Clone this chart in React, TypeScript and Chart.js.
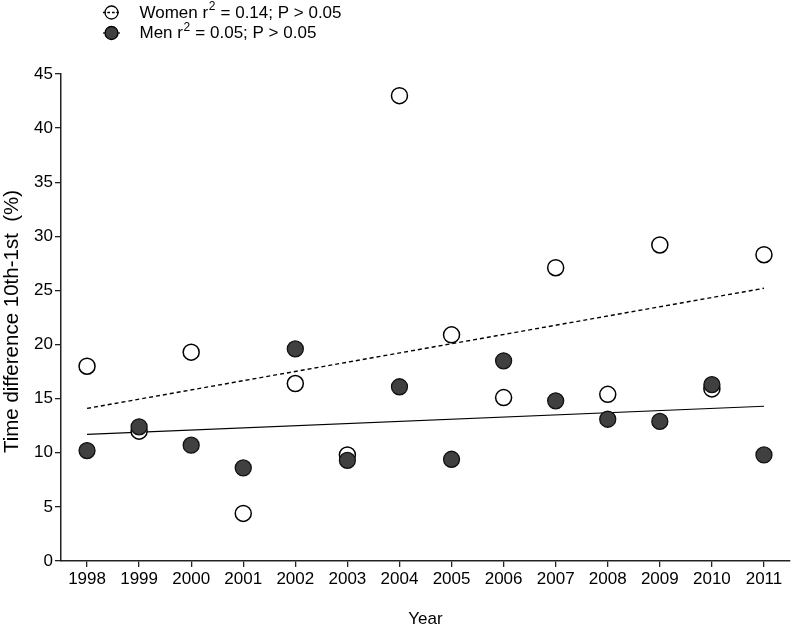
import React, { useEffect, useRef } from "react";
import { Chart, registerables } from "chart.js";

Chart.register(...registerables);

const years = [1998, 1999, 2000, 2001, 2002, 2003, 2004, 2005, 2006, 2007, 2008, 2009, 2010, 2011];
const womenValues = [18.0, 12.0, 19.3, 4.4, 16.4, 9.8, 43.0, 20.9, 15.1, 27.1, 15.4, 29.2, 15.9, 28.3];
const menValues = [10.2, 12.4, 10.7, 8.6, 19.6, 9.3, 16.1, 9.4, 18.5, 14.8, 13.1, 12.9, 16.3, 9.8];
const womenTrendYears = [1998, 2011];
const womenTrendValues = [14.1, 25.2];
const menTrendYears = [1998, 2011];
const menTrendValues = [11.7, 14.3];
const yTicks = [0, 5, 10, 15, 20, 25, 30, 35, 40, 45];
const yTitle = "Time difference 10th-1st  (%)";
const xTitle = "Year";
const legendLabels = [
  { name: "Women", stat: "= 0.14; P > 0.05", dashed: true, fill: "#ffffff" },
  { name: "Men", stat: "= 0.05; P > 0.05", dashed: false, fill: "#404040" },
];

const FONT = "'Liberation Sans', Arial, sans-serif";

const legendPlugin = {
  id: "customLegend",
  afterDraw(chart: any) {
    const ctx = chart.ctx as CanvasRenderingContext2D;
    ctx.save();
    legendLabels.forEach((item, i) => {
      const cx = 111.5;
      const cy = 12.5 + i * 20.5;
      ctx.strokeStyle = "#000";
      ctx.lineWidth = 1.2;
      ctx.setLineDash(item.dashed ? [2.5, 2] : []);
      ctx.beginPath();
      ctx.moveTo(cx - 8.5, cy);
      ctx.lineTo(cx + 8.5, cy);
      ctx.stroke();
      ctx.setLineDash([]);
      ctx.beginPath();
      ctx.arc(cx, cy, 6.5, 0, Math.PI * 2);
      if (!item.dashed) {
        ctx.fillStyle = item.fill;
        ctx.fill();
      }
      ctx.lineWidth = 1.3;
      ctx.stroke();
      if (item.dashed) {
        ctx.setLineDash([2.5, 2]);
        ctx.beginPath();
        ctx.moveTo(cx - 8.5, cy);
        ctx.lineTo(cx + 8.5, cy);
        ctx.stroke();
        ctx.setLineDash([]);
      }
      ctx.fillStyle = "#000";
      ctx.textBaseline = "middle";
      ctx.textAlign = "left";
      ctx.font = `17px ${FONT}`;
      let x = 139.5;
      const t1 = item.name + " r";
      ctx.fillText(t1, x, cy + 0.5);
      x += ctx.measureText(t1).width;
      ctx.font = `12px ${FONT}`;
      ctx.fillText("2", x + 0.5, cy - 5.5);
      x += ctx.measureText("2").width + 1;
      ctx.font = `17px ${FONT}`;
      ctx.fillText(" " + item.stat, x, cy + 0.5);
    });
    // y axis title
    const area = chart.chartArea;
    ctx.save();
    ctx.translate(12, (area.top + area.bottom) / 2 + 4);
    ctx.rotate(-Math.PI / 2);
    ctx.font = `20.5px ${FONT}`;
    ctx.textAlign = "center";
    ctx.textBaseline = "middle";
    ctx.fillStyle = "#000";
    ctx.fillText(yTitle, 0, 0);
    ctx.restore();
    ctx.restore();
  },
};

export default function App() {
  const ref = useRef<HTMLCanvasElement | null>(null);
  useEffect(() => {
    if (!ref.current) return;
    const women = years.map((x, i) => ({ x, y: womenValues[i] }));
    const men = years.map((x, i) => ({ x, y: menValues[i] }));
    const wTrend = womenTrendYears.map((x, i) => ({ x, y: womenTrendValues[i] }));
    const mTrend = menTrendYears.map((x, i) => ({ x, y: menTrendValues[i] }));
    const chart = new Chart(ref.current, {
      type: "scatter",
      data: {
        datasets: [
          {
            label: "Men",
            data: men,
            order: 0,
            pointRadius: 8,
            pointHoverRadius: 8,
            backgroundColor: "#404040",
            borderColor: "#111",
            borderWidth: 1.3,
          } as any,
          {
            label: "Women",
            data: women,
            order: 1,
            pointRadius: 8,
            pointHoverRadius: 8,
            backgroundColor: "#ffffff",
            borderColor: "#000",
            borderWidth: 1.5,
          } as any,
          {
            type: "line",
            label: "Women trend",
            data: wTrend,
            order: 2,
            showLine: true,
            pointRadius: 0,
            borderColor: "#000",
            borderWidth: 1.4,
            borderDash: [4, 3],
            fill: false,
          } as any,
          {
            type: "line",
            label: "Men trend",
            data: mTrend,
            order: 3,
            showLine: true,
            pointRadius: 0,
            borderColor: "#000",
            borderWidth: 1.2,
            fill: false,
          } as any,
        ],
      },
      options: {
        responsive: false,
        animation: false,
        layout: { autoPadding: false, padding: { top: 74, right: 3, left: 0, bottom: 0 } },
        plugins: { legend: { display: false }, tooltip: { enabled: false } },
        scales: {
          x: {
            type: "linear",
            min: 1997.5,
            max: 2011.5,
            afterBuildTicks: (s: any) => {
              s.ticks = years.map((v) => ({ value: v }));
            },
            afterFit: (s: any) => {
              s.height = 69;
              s.paddingRight = 0;
              s.paddingLeft = 0;
            },
            ticks: {
              font: { family: FONT, size: 17 },
              color: "#000",
              padding: 2,
              maxRotation: 0,
              autoSkip: false,
              callback: (v: any) => String(v),
            },
            grid: { drawOnChartArea: false, drawTicks: true, tickLength: 6, color: "#222", lineWidth: 1.3 },
            border: { display: true, color: "#222", width: 1.5 },
            title: {
              display: true,
              text: xTitle,
              font: { family: FONT, size: 17 },
              color: "#000",
              padding: { top: 0, bottom: 0.5 },
            },
          },
          y: {
            type: "linear",
            min: 0,
            max: 45,
            afterBuildTicks: (s: any) => {
              s.ticks = yTicks.map((v) => ({ value: v }));
            },
            afterFit: (s: any) => {
              s.width = 61;
              s.paddingTop = 0;
              s.paddingBottom = 0;
            },
            ticks: {
              font: { family: FONT, size: 17 },
              color: "#000",
              padding: 2,
              callback: (v: any) => String(v),
            },
            grid: { drawOnChartArea: false, drawTicks: true, tickLength: 6, color: "#222", lineWidth: 1.3 },
            border: { display: true, color: "#222", width: 1.5 },
            title: { display: false },
          },
        },
      },
      plugins: [legendPlugin],
    });
    return () => chart.destroy();
  }, []);
  return (
    <div style={{ position: "absolute", left: 0, top: 0, width: 793, height: 630, background: "#fff" }}>
      <canvas ref={ref} width={793} height={630} style={{ display: "block" }} />
    </div>
  );
}
